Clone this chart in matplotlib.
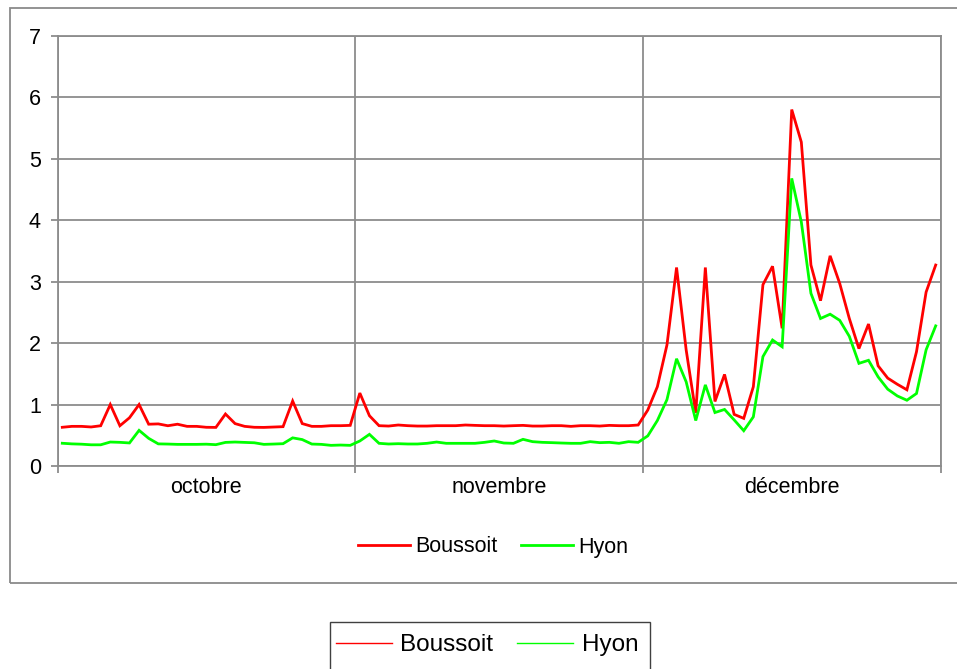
import matplotlib
matplotlib.use("Agg")
import matplotlib.pyplot as plt
from matplotlib.lines import Line2D
from matplotlib.patches import Rectangle
import numpy as np

plt.rcParams['font.family'] = ['Liberation Sans', 'DejaVu Sans']

months = ["octobre", "novembre", "décembre"]
month_days = [31, 30, 31]

boussoit_oct = [0.63, 0.645, 0.645, 0.635, 0.655, 1.0, 0.655, 0.785, 1.0, 0.68,
                0.685, 0.655, 0.68, 0.645, 0.645, 0.63, 0.628, 0.846, 0.69, 0.645,
                0.63, 0.628, 0.634, 0.64, 1.057, 0.69, 0.645, 0.645, 0.656, 0.656, 0.661]
boussoit_nov = [1.187, 0.818, 0.656, 0.65, 0.667, 0.656, 0.65, 0.65, 0.656, 0.656,
                0.656, 0.667, 0.661, 0.656, 0.656, 0.65, 0.656, 0.661, 0.65, 0.65,
                0.656, 0.656, 0.645, 0.656, 0.656, 0.65, 0.661, 0.656, 0.656, 0.667]
boussoit_dec = [0.91, 1.29, 1.97, 3.23, 1.89, 0.865, 3.23, 1.05, 1.49, 0.84,
                0.775, 1.29, 2.95, 3.25, 2.24, 5.80, 5.27, 3.27, 2.69, 3.42,
                2.97, 2.40, 1.91, 2.31, 1.63, 1.43, 1.33, 1.24, 1.86, 2.83, 3.27]

hyon_oct = [0.37, 0.36, 0.355, 0.345, 0.345, 0.39, 0.385, 0.375, 0.58, 0.45,
            0.36, 0.357, 0.352, 0.352, 0.352, 0.355, 0.347, 0.384, 0.39, 0.384,
            0.378, 0.352, 0.357, 0.363, 0.458, 0.43, 0.357, 0.352, 0.336, 0.341, 0.336]
hyon_nov = [0.407, 0.515, 0.369, 0.358, 0.363, 0.358, 0.358, 0.369, 0.39, 0.369,
            0.369, 0.369, 0.369, 0.385, 0.407, 0.374, 0.369, 0.434, 0.396, 0.385,
            0.38, 0.374, 0.369, 0.369, 0.396, 0.38, 0.385, 0.369, 0.396, 0.385]
hyon_dec = [0.49, 0.74, 1.08, 1.745, 1.37, 0.74, 1.32, 0.87, 0.92, 0.75,
            0.574, 0.80, 1.78, 2.05, 1.94, 4.68, 3.97, 2.81, 2.40, 2.47,
            2.37, 2.11, 1.67, 1.72, 1.45, 1.25, 1.14, 1.07, 1.18, 1.89, 2.28]

y_ticks = [0, 1, 2, 3, 4, 5, 6, 7]

boussoit = boussoit_oct + boussoit_nov + boussoit_dec
hyon = hyon_oct + hyon_nov + hyon_dec
x = np.arange(len(boussoit))

W, H = 957, 669
fig = plt.figure(figsize=(W / 100, H / 100), dpi=100)
fig.patch.set_facecolor("white")

ax = fig.add_axes([57.5 / W, 1 - 466 / H, (940.5 - 57.5) / W, (466 - 35.8) / H])
grid_c = "#8c8c8c"
red = "#ff0000"
green = "#00ff00"

l1, = ax.plot(x, boussoit, color=red, lw=2.0, solid_joinstyle="miter", zorder=3)
l2, = ax.plot(x, hyon, color=green, lw=2.0, solid_joinstyle="miter", zorder=3)

ax.set_xlim(-0.5, len(boussoit) - 0.5)
ax.set_ylim(0, 7)
ax.set_yticks(y_ticks)
ax.set_yticklabels([str(v) for v in y_ticks])

bounds = np.concatenate([[0], np.cumsum(month_days)]) - 0.5
centers = (bounds[:-1] + bounds[1:]) / 2
ax.set_xticks(bounds)
ax.set_xticklabels([])
ax.set_xticks(centers, minor=True)
ax.set_xticklabels(months, minor=True)
ax.tick_params(axis="x", which="minor", length=0, pad=8, labelsize=15.5)
ax.tick_params(axis="x", which="major", length=5, color=grid_c, width=1.3)
ax.tick_params(axis="y", length=5, color=grid_c, width=1.3, pad=7, labelsize=15.5)

ax.grid(True, which="major", color=grid_c, lw=1.3)
ax.set_axisbelow(True)
for s in ax.spines.values():
    s.set_color(grid_c)
    s.set_linewidth(1.3)

# chart area border
fig.add_artist(Rectangle((10 / W, 1 - 583 / H), 1.2, (583 - 8) / H,
                         transform=fig.transFigure, fill=False,
                         edgecolor="#8a8a8a", lw=1.3))

# inner legend
fig.legend(handles=[l1, l2], labels=["Boussoit", "Hyon"], ncol=2,
           loc="center", bbox_to_anchor=(493 / W, 1 - 547 / H),
           frameon=False, fontsize=15.5, handlelength=2.4,
           handletextpad=0.25, columnspacing=1.1)

# lower legend
h1 = Line2D([], [], color=red, lw=1.0)
h2 = Line2D([], [], color=green, lw=1.0)
fig.legend(handles=[h1, h2], labels=["Boussoit", "Hyon"], ncol=2,
           loc="center", bbox_to_anchor=(487 / W, 1 - 645 / H),
           frameon=False, fontsize=17.5, handlelength=2.3,
           handletextpad=0.35, columnspacing=1.0)
fig.add_artist(Rectangle((330 / W, -0.1), (650 - 330) / W, 0.1 + (1 - 622 / H),
                         transform=fig.transFigure, fill=False,
                         edgecolor="#404040", lw=1.0))

fig.savefig("out.png", dpi=100)
